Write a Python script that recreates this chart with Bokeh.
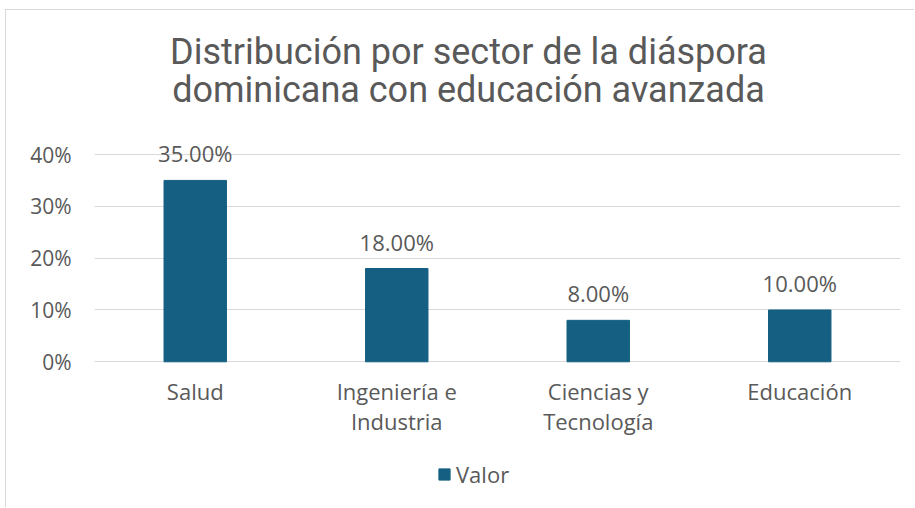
from bokeh.plotting import figure
from bokeh.models import ColumnDataSource, Label, FixedTicker, NumeralTickFormatter, Range1d
from bokeh.embed import file_html
from bokeh.resources import INLINE
from bokeh.core.properties import value

# ---- data ----
categories = ["Salud", "Ingeniería e\nIndustria", "Ciencias y\nTecnología", "Educación"]
values = [0.35, 0.18, 0.08, 0.10]
y_ticks = [0.0, 0.1, 0.2, 0.3, 0.4]
series_name = "Valor"
title_lines = ["Distribución por sector de la diáspora", "dominicana con educación avanzada"]

# ---- style / layout ----
BAR = "#156082"
TXT = "#595959"
GRID = "#d9d9d9"
FONT = "Open Sans"
TFONT = "Roboto"

FRAME_TOP, FRAME_BOTTOM = 10, 507          # page px
ZERO_PX, TOP_PX = 361.3, 154.0             # page px of 0% and 40% gridlines
k = (ZERO_PX - TOP_PX) / y_ticks[-1]       # px per unit
y_lo = -(FRAME_BOTTOM - ZERO_PX) / k
y_hi = (ZERO_PX - FRAME_TOP) / k

labels = [f"{v*100:.2f}%" for v in values]
src = ColumnDataSource(dict(cat=categories, val=values, lab=labels, zero=[0.0] * len(values)))

p = figure(x_range=categories, y_range=Range1d(y_lo, y_hi), x_axis_location=None,
           frame_width=806, frame_height=FRAME_BOTTOM - FRAME_TOP,
           min_border_left=88, min_border_right=14, min_border_top=0, min_border_bottom=0,
           output_backend="svg", toolbar_location=None,
           background_fill_color="white", border_fill_color="white")
p.styles = {"border-left": "1px solid #d9d9d9", "border-top": "1px solid #d9d9d9",
            "margin-left": "5px", "margin-top": "9px"}
p.outline_line_color = None

p.vbar(x="cat", top="val", width=0.31, source=src, color=BAR, legend_label=series_name)

# data labels
p.text(x="cat", y="val", text="lab", source=src, y_offset=-27,
       text_align="center", text_baseline="alphabetic",
       text_font=value(FONT), text_font_size="22px", text_color=TXT)

# category labels
p.text(x="cat", y="zero", text="cat", source=src, y_offset=14,
       text_align="center", text_baseline="top", text_line_height=1.0,
       text_font=value(FONT), text_font_size="22px", text_color=TXT)

# y axis
p.yaxis.ticker = FixedTicker(ticks=y_ticks)
p.yaxis.formatter = NumeralTickFormatter(format="0%")
ax = p.yaxis[0]
ax.axis_line_color = None
ax.major_tick_line_color = None
ax.minor_tick_line_color = None
ax.major_tick_out = 0
ax.major_tick_in = 0
ax.major_label_text_font = FONT
ax.major_label_text_font_size = "21px"
ax.major_label_text_color = TXT
ax.major_label_standoff = 23

p.xgrid.grid_line_color = None
p.ygrid.ticker = FixedTicker(ticks=y_ticks)
p.ygrid.grid_line_color = GRID
p.ygrid.grid_line_width = 1

# title (two lines) in screen units relative to frame bottom-left
p.add_layout(Label(x=374, y=456, x_units="screen", y_units="screen", text=title_lines[0],
                   text_align="center", text_baseline="alphabetic",
                   text_font=TFONT, text_font_size="36px", text_color=TXT))
p.add_layout(Label(x=374, y=418, x_units="screen", y_units="screen", text=title_lines[1],
                   text_align="center", text_baseline="alphabetic",
                   text_font=TFONT, text_font_size="36px", text_color=TXT))

# legend
lg = p.legend[0]
lg.location = (343, 18)
lg.orientation = "horizontal"
lg.border_line_color = None
lg.background_fill_alpha = 0
lg.padding = 0
lg.margin = 0
lg.glyph_width = 14
lg.glyph_height = 14
lg.label_standoff = 5
lg.label_text_font = FONT
lg.label_text_font_size = "22px"
lg.label_text_color = TXT

open("out.html", "w").write(file_html(p, INLINE))
